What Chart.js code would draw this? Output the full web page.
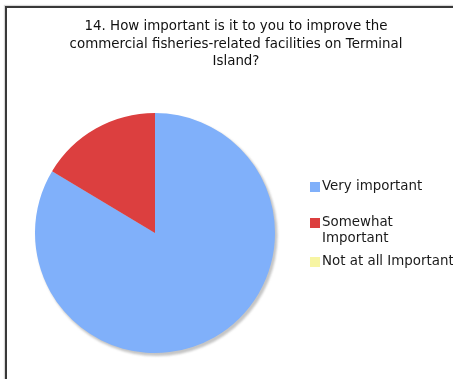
<!DOCTYPE html>
<html>
<head>
<meta charset="utf-8">
<script src="https://cdn.jsdelivr.net/npm/chart.js@4/dist/chart.umd.min.js"></script>
<style>
  html, body { margin: 0; padding: 0; background: #fff; overflow: hidden; width: 453px; height: 379px; }
  #frame {
    position: absolute; left: 5px; top: 6px;
    width: 470px; height: 400px;
    border-left: 2px solid #383838; border-top: 2px solid #383838;
    box-shadow: -1px -1px 1px rgba(0,0,0,0.15);
  }
  #wrap { position: absolute; left: 7px; top: 8px; width: 458px; height: 380px; }
</style>
</head>
<body>
<div id="frame"></div>
<div id="wrap"><canvas id="c" width="458" height="380"></canvas></div>
<script>
// Survey question and answer breakdown (percent of responses)
const titleLines = [
  "14. How important is it to you to improve the",
  "commercial fisheries-related facilities on Terminal",
  "Island?"
];
const categories = ["Very important", "Somewhat Important", "Not at all Important"];
const legendLines = [["Very important"], ["Somewhat", "Important"], ["Not at all Important"]];
const responses = [83.6, 16.4, 0];
const sliceColors = ["#80b0fa", "#dc3f3f", "#f7f5a3"];

const FONT = '13.4px "DejaVu Sans", Verdana, sans-serif';

// Soft grey drop shadow under the pie
const pieShadow = {
  id: 'pieShadow',
  beforeDatasetsDraw(chart) {
    const arc = chart.getDatasetMeta(0).data[0];
    if (!arc) return;
    const ctx = chart.ctx;
    ctx.save();
    ctx.fillStyle = 'rgba(150,150,150,0.55)';
    ctx.filter = 'blur(1px)';
    ctx.beginPath();
    ctx.arc(arc.x + 2, arc.y + 2.5, arc.outerRadius + 0.5, 0, Math.PI * 2);
    ctx.fill();
    ctx.restore();
  }
};

// Centered multi-line heading
const heading = {
  id: 'heading',
  afterDraw(chart) {
    const ctx = chart.ctx;
    ctx.save();
    ctx.font = FONT;
    ctx.fillStyle = '#111';
    ctx.textAlign = 'center';
    ctx.textBaseline = 'middle';
    const cx = chart.width / 2;
    titleLines.forEach((t, i) => ctx.fillText(t, cx, 19 + i * 17.5));
    ctx.restore();
  }
};

// Legend with square swatches and wrapped labels
const sideLegend = {
  id: 'sideLegend',
  afterDraw(chart) {
    const ctx = chart.ctx;
    const ds = chart.data.datasets[0];
    const rowY = [179, 215, 254];
    ctx.save();
    ctx.font = FONT;
    ctx.textBaseline = 'middle';
    chart.data.labels.forEach((lab, i) => {
      const y = rowY[i];
      ctx.fillStyle = ds.backgroundColor[i];
      ctx.fillRect(303, y - 5, 10, 10);
      ctx.fillStyle = '#1a1a1a';
      legendLines[i].forEach((ln, j) => ctx.fillText(ln, 315, y + j * 16));
    });
    ctx.restore();
  }
};

new Chart(document.getElementById('c'), {
  type: 'pie',
  data: {
    labels: categories,
    datasets: [{
      data: responses,
      backgroundColor: sliceColors,
      borderWidth: 0
    }]
  },
  options: {
    responsive: false,
    animation: false,
    layout: { padding: { left: 28, top: 105, right: 190, bottom: 35 } },
    plugins: {
      legend: { display: false },
      title: { display: false },
      tooltip: { enabled: false }
    }
  },
  plugins: [pieShadow, heading, sideLegend]
});
</script>
</body>
</html>
